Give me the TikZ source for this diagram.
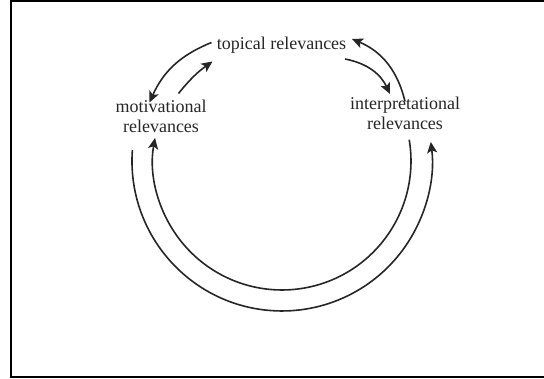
\documentclass[tikz,border=0pt]{standalone}
\usepackage{fontspec}
\setmainfont{Liberation Serif}
\usetikzlibrary{arrows.meta}
\definecolor{ink}{HTML}{262626}
\tikzset{
  lbl/.style={font=\fontsize{18}{20}\selectfont, text=ink, inner sep=0pt, align=center, anchor=base},
  conn/.style={draw=ink, line width=1.6pt, -{Stealth[length=11pt,width=10pt,inset=2.5pt]}},
  frame/.style={draw=black, line width=2.4pt}
}
\begin{document}
\begin{tikzpicture}[x=1pt,y=1pt]
\useasboundingbox (0,0) rectangle (544,378);
\begin{scope}
\clip (0,0) rectangle (544,378);
\draw[frame] (11,377) rectangle (548,1.3);
\end{scope}

\node[lbl] (top) at (281.5,328) {topical relevances};
\node[lbl] (mot) at (161,245) {motivational\\relevances};
\node[lbl] (int) at (405,248) {interpretational\\relevances};

% end points of the connectors
\coordinate (a1s) at (211.5,335.5);
\coordinate (a1e) at (149.5,275.5);
\coordinate (a2s) at (178.5,284.5);
\coordinate (a2e) at (212.5,316.5);
\coordinate (a3s) at (345,319);
\coordinate (a3e) at (390,284);
\coordinate (a4s) at (405,276.5);
\coordinate (a4e) at (352,339);
\coordinate (os) at (132.4,228);
\coordinate (is) at (409.2,238.3);

\draw[conn] (a1s) to[bend right=22] (a1e);
\draw[conn] (a2s) to[bend left=8] (a2e);
\draw[conn] (a3s) to[bend left=27] (a3e);
\draw[conn] (a4s) to[bend right=27] (a4e);

\draw[conn] (os) arc[start angle=175.8, end angle=367.3, radius=150];
\draw[conn] (is) arc[start angle=9.5, end angle=-190.3, radius=129];
\end{tikzpicture}
\end{document}
